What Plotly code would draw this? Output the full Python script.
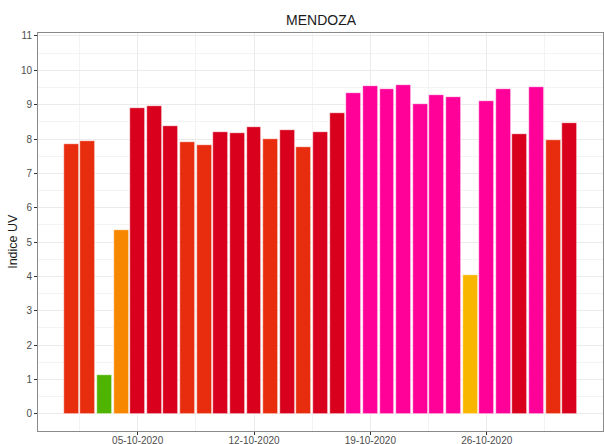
import plotly.graph_objects as go
import pandas as pd
import math

dates = pd.date_range("2020-10-01", "2020-10-31", freq="D")
uv = [7.86, 7.94, 1.12, 5.36, 8.90, 8.97, 8.37, 7.91, 7.82, 8.20,
      8.17, 8.36, 7.99, 8.25, 7.76, 8.19, 8.77, 9.34, 9.53, 9.46,
      9.57, 9.03, 9.29, 9.21, 4.04, 9.10, 9.45, 8.16, 9.50, 7.97, 8.46]

uv_palette = {0: "#4eb400", 1: "#4eb400", 2: "#a0ce00", 3: "#f7e400", 4: "#f8b600",
              5: "#f88700", 6: "#f85900", 7: "#e82c0e", 8: "#d8001d",
              9: "#ff0099", 10: "#b54cff", 11: "#998cff"}
colors = [uv_palette[min(int(math.floor(v)), 11)] for v in uv]

major_ticks = ["2020-10-05", "2020-10-12", "2020-10-19", "2020-10-26"]
minor_ticks = ["2020-10-01 12:00", "2020-10-08 12:00", "2020-10-15 12:00",
               "2020-10-22 12:00", "2020-10-29 12:00"]

fig = go.Figure(go.Bar(
    x=dates, y=uv,
    width=0.9 * 86400000,
    marker=dict(color=colors, line=dict(color="white", width=0.6)),
))

font_family = "Liberation Sans, Arial, sans-serif"
fig.update_layout(
    width=604, height=444,
    margin=dict(l=38, r=1, t=33, b=13),
    paper_bgcolor="white", plot_bgcolor="white",
    showlegend=False,
    font=dict(family=font_family, size=11, color="#4d4d4d"),
    title=dict(text="MENDOZA", x=0.5315, xanchor="center", y=0.955, yanchor="middle",
               font=dict(size=14, color="#1a1a1a", family=font_family)),
    bargap=0,
    annotations=[dict(text="Indice UV", xref="paper", yref="paper",
                      x=-0.0448, y=0.477, xanchor="center", yanchor="middle",
                      textangle=-90, showarrow=False,
                      font=dict(size=12.5, color="#1a1a1a", family=font_family))],
)
fig.update_xaxes(
    type="date",
    range=["2020-09-29 00:07", "2020-11-01 23:53"],
    tickvals=major_ticks, tickformat="%d-%m-%Y",
    ticks="outside", ticklen=3, tickcolor="#333333", tickwidth=1,
    ticklabelstandoff=-3,
    tickfont=dict(size=10, color="#4d4d4d"),
    showgrid=True, gridcolor="#ebebeb", gridwidth=1,
    minor=dict(tickvals=minor_ticks, showgrid=True, gridcolor="#f3f3f3", gridwidth=0.6, ticks=""),
    showline=True, linecolor="#8a8a8a", linewidth=1, mirror=True,
    zeroline=False, automargin=False,
)
fig.update_yaxes(
    range=[-0.504, 11.087],
    tickvals=list(range(0, 12)),
    ticks="outside", ticklen=3, tickcolor="#333333", tickwidth=1,
    tickfont=dict(size=10, color="#4d4d4d"),
    showgrid=True, gridcolor="#ebebeb", gridwidth=1,
    minor=dict(dtick=0.5, tick0=0.5, showgrid=True, gridcolor="#f3f3f3", gridwidth=0.6, ticks=""),
    showline=True, linecolor="#8a8a8a", linewidth=1, mirror=True,
    zeroline=False, automargin=False,
)

fig.write_html("out.html", config={"displayModeBar": False},
               post_script="document.body.style.margin='0';document.body.style.overflow='hidden';")
